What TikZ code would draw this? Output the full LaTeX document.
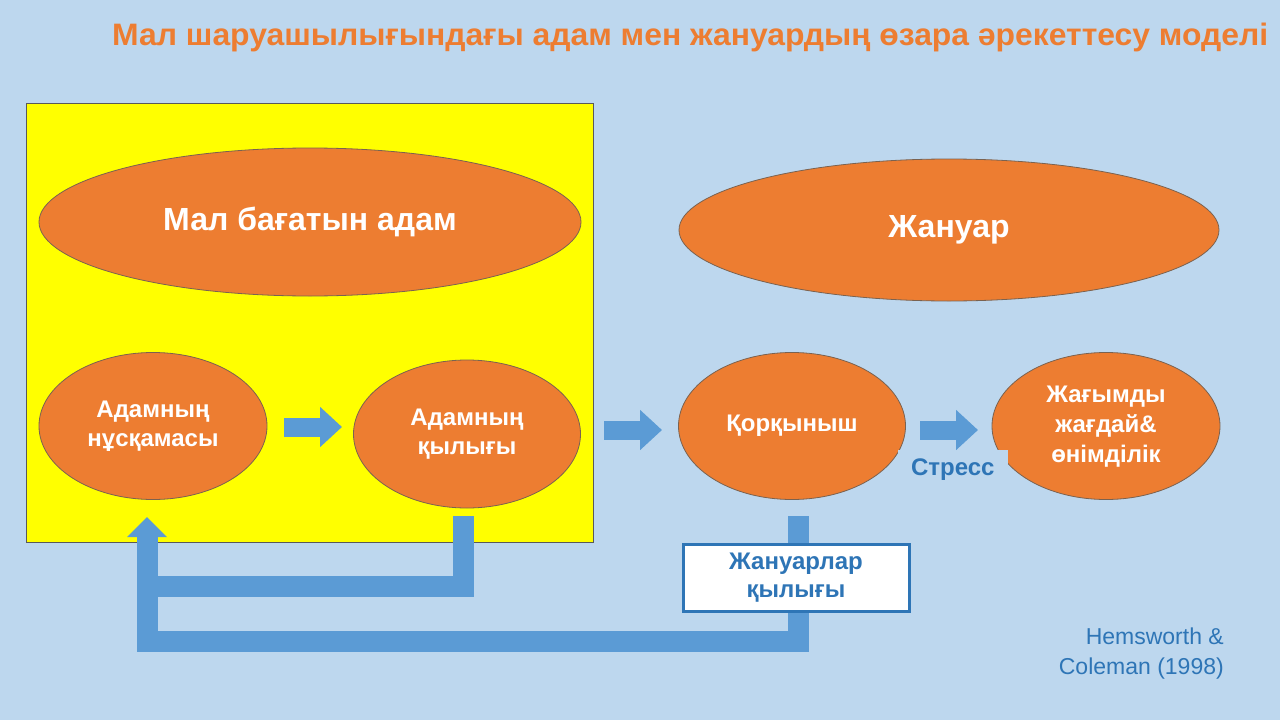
\documentclass[tikz,border=0pt]{standalone}
\usepackage{fontspec}
\setmainfont{Liberation Sans}
\usepackage{graphicx}
\usetikzlibrary{shapes.geometric,arrows.meta}
\definecolor{bg}{HTML}{BDD7EE}
\definecolor{org}{HTML}{ED7D31}
\definecolor{arr}{HTML}{5B9BD5}
\definecolor{dblue}{HTML}{2E75B6}
\definecolor{ellb}{HTML}{7A6250}
\definecolor{panel}{HTML}{FFFF00}
\newcommand{\lowstack}[2]{\raisebox{#1}{\begin{tabular}{@{}c@{}}#2\end{tabular}}}
\tikzset{
  oval/.style={ellipse, fill=org, draw=ellb, line width=0.8pt, text=white, align=center, inner sep=0pt},
  bigtext/.style={font=\bfseries\fontsize{32}{36}\selectfont},
  smalltext/.style={font=\bfseries\fontsize{24}{29}\selectfont},
  blockarrow/.style={draw=arr, line width=19pt, -{Triangle[length=22pt,width=39pt]}},
  feedback/.style={draw=arr, line width=21pt, line join=miter},
}
\begin{document}
\begin{tikzpicture}[x=1pt,y=-1pt]
\fill[bg] (0,0) rectangle (1280,720);
\useasboundingbox (0,0) rectangle (1280,720);
% title
\node[text=org, font=\bfseries\fontsize{31}{34}\selectfont, anchor=base west, inner sep=0pt] (title) at (112,45)
  {\resizebox{1156pt}{\height}{Мал шаруашылығындағы адам мен жануардың өзара әрекеттесу моделі}};
% yellow panel
\draw[fill=panel, draw=gray!70!black, line width=0.6pt] (26,103) rectangle (593,542);
% ellipses
\node[oval, bigtext, minimum width=542pt, minimum height=148pt] (man) at (310,222) {Мал бағатын адам};
\node[oval, bigtext, minimum width=540pt, minimum height=142pt] (animal) at (949,230) {Жануар};
\node[oval, smalltext, minimum width=228pt, minimum height=147pt] (instr) at (153,426) {Адамның\\нұсқамасы};
\node[oval, smalltext, minimum width=227pt, minimum height=148pt] (behav) at (467,434) {Адамның\\қылығы};
\node[oval, smalltext, minimum width=227pt, minimum height=147pt] (fear) at (792,426) {Қорқыныш};
\node[oval, font=\bfseries\fontsize{24}{30}\selectfont, minimum width=228pt, minimum height=147pt] (good) at (1106,426) {\lowstack{-5pt}{Жағымды\\жағдай\&\\өнімділік}};
% stress label
\node[fill=bg, text=dblue, font=\bfseries\fontsize{24}{26}\selectfont, minimum width=110pt, minimum height=38pt, inner sep=0pt, anchor=north east] (stress) at (1008,450) {Стресс};
% block arrows
\coordinate (a1s) at (284,427);
\coordinate (a1e) at (342,427);
\coordinate (a2s) at (604,430);
\coordinate (a2e) at (662,430);
\coordinate (a3s) at (920,430);
\coordinate (a3e) at (978,430);
\draw[blockarrow] (a1s) -- (a1e);
\draw[blockarrow] (a2s) -- (a2e);
\draw[blockarrow] (a3s) -- (a3e);
% feedback loops
\coordinate (b1) at (463,516);
\coordinate (b2) at (147,586);
\draw[feedback] (b1) |- (b2);
\coordinate (f1) at (798,516);
\coordinate (f2) at (147,641.5);
\coordinate (f3) at (147,537);
\draw[feedback] (f1) |- (f2) -- (f3);
\fill[arr] (127,537) -- (167,537) -- (147,517) -- cycle;
% animal behaviour box
\node[fill=white, draw=dblue, line width=3pt, text=dblue, font=\bfseries\fontsize{24}{28}\selectfont, align=center, minimum width=226pt, minimum height=67pt, inner sep=0pt] (abeh) at (796,577.5) {\lowstack{-4pt}{Жануарлар\\қылығы}};
% reference
\node[text=dblue, font=\fontsize{23}{30}\selectfont, align=right, anchor=north east, inner sep=0pt] (ref) at (1224,628) {Hemsworth \&\\Coleman (1998)};
\end{tikzpicture}
\end{document}
